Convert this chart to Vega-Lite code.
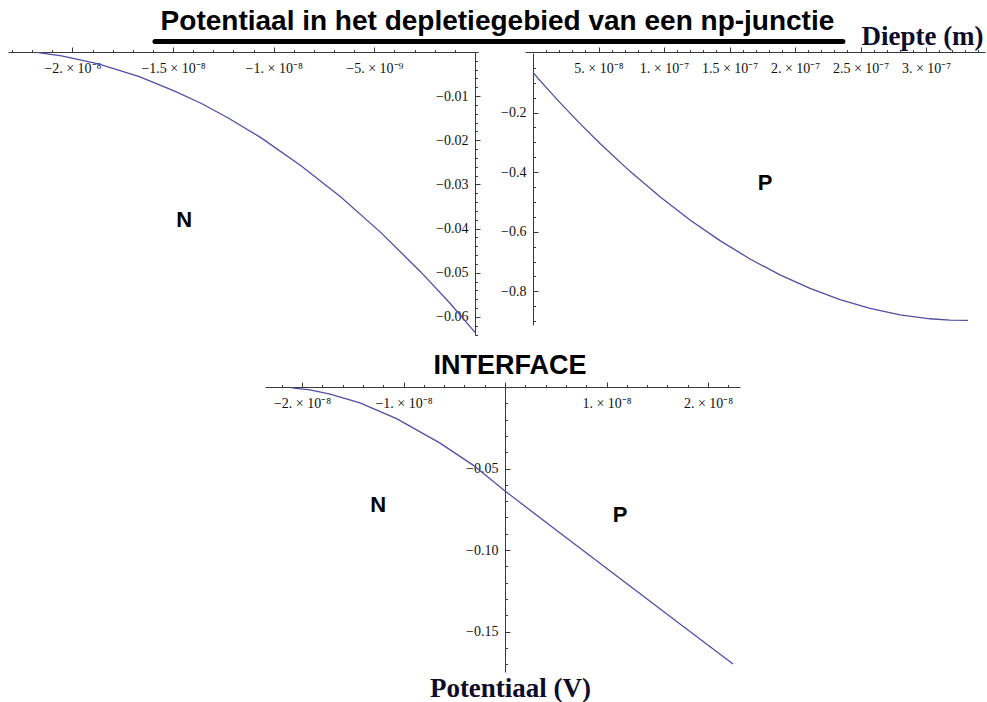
{
  "$schema": "https://vega.github.io/schema/vega-lite/v6.json",
  "width": 987,
  "height": 702,
  "autosize": {"type": "none"},
  "padding": 0,
  "background": "white",
  "config": {
    "view": {"stroke": null},
    "axis": {
      "grid": false,
      "domainColor": "#3a3a3a",
      "domainWidth": 1,
      "tickColor": "#3a3a3a",
      "tickWidth": 1,
      "tickSize": -5,
      "labelFont": "Liberation Serif",
      "labelFontSize": 14,
      "labelColor": "#111111",
      "labelOverlap": false,
      "labelFlush": false,
      "labelBound": false,
      "labelPadding": 12
    },
    "axisX": {"labelPadding": 14}
  },
  "layer": [
    {
      "data": {"values": [
        {"diepte_m": -2.178e-8, "potentiaal_V": -0.0001},
        {"diepte_m": -2.054e-8, "potentiaal_V": -0.0009},
        {"diepte_m": -1.871e-8, "potentiaal_V": -0.0027},
        {"diepte_m": -1.668e-8, "potentiaal_V": -0.0056},
        {"diepte_m": -1.495e-8, "potentiaal_V": -0.0088},
        {"diepte_m": -1.361e-8, "potentiaal_V": -0.0116},
        {"diepte_m": -1.228e-8, "potentiaal_V": -0.0149},
        {"diepte_m": -1.064e-8, "potentiaal_V": -0.0194},
        {"diepte_m": -8.66e-9, "potentiaal_V": -0.0257},
        {"diepte_m": -6.68e-9, "potentiaal_V": -0.0328},
        {"diepte_m": -4.70e-9, "potentiaal_V": -0.0408},
        {"diepte_m": -2.72e-9, "potentiaal_V": -0.0497},
        {"diepte_m": -1.24e-9, "potentiaal_V": -0.0569},
        {"diepte_m": 0, "potentiaal_V": -0.0635}
      ]},
      "layer": [
        {
          "mark": {"type": "line", "color": "#4f4fa6", "strokeWidth": 1.3},
          "encoding": {
            "x": {
              "field": "diepte_m", "type": "quantitative",
              "scale": {"domain": [-2.32e-8, 1.5e-10], "range": [8, 478], "zero": false, "nice": false},
              "axis": {
                "orient": "bottom", "offset": -650, "title": null,
                "values": [-2e-8, -1.5e-8, -1e-8, -5e-9],
                "labelExpr": "replace(split(format(datum.value,'.1e'),'e')[0],'.0','.') + ' × 10' + replace(replace(replace(replace(replace(split(format(datum.value,'.1e'),'e')[1],'-','⁻'),'−','⁻'),'7','⁷'),'8','⁸'),'9','⁹')"
              }
            },
            "y": {
              "field": "potentiaal_V", "type": "quantitative",
              "scale": {"domain": [-0.0641, 0], "range": [335, 52], "zero": false, "nice": false},
              "axis": {
                "orient": "left", "offset": -475, "title": null,
                "values": [-0.01, -0.02, -0.03, -0.04, -0.05, -0.06],
                "format": ".2f"
              }
            }
          }
        },
        {
          "data": {"values": [{"diepte_m": -1.445e-8, "potentiaal_V": -0.0381, "gebied": "N"}]},
          "mark": {"type": "text", "font": "Liberation Sans", "fontWeight": "bold", "fontSize": 22, "color": "black", "align": "center", "baseline": "middle"},
          "encoding": {
            "x": {"field": "diepte_m", "type": "quantitative",
              "axis": {"orient": "bottom", "offset": -650, "title": null, "labels": false, "domain": false, "tickSize": -2.5,
                "values": [-2.3e-8, -2.2e-8, -2.1e-8, -1.9e-8, -1.8e-8, -1.7e-8, -1.6e-8, -1.4e-8, -1.3e-8, -1.2e-8, -1.1e-8, -9e-9, -8e-9, -7e-9, -6e-9, -4e-9, -3e-9, -2e-9, -1e-9]}},
            "y": {"field": "potentiaal_V", "type": "quantitative",
              "axis": {"orient": "left", "offset": -475, "title": null, "labels": false, "domain": false, "tickSize": -2.5,
                "values": [-0.002, -0.004, -0.006, -0.008, -0.012, -0.014, -0.016, -0.018, -0.022, -0.024, -0.026, -0.028, -0.032, -0.034, -0.036, -0.038, -0.042, -0.044, -0.046, -0.048, -0.052, -0.054, -0.056, -0.058, -0.062, -0.064]}},
            "text": {"field": "gebied"}
          }
        }
      ],
      "resolve": {"axis": {"x": "independent", "y": "independent"}}
    },
    {
      "data": {"values": [
        {"diepte_m": 0, "potentiaal_V": -0.0655},
        {"diepte_m": 9.16e-9, "potentiaal_V": -0.1113},
        {"diepte_m": 2.061e-8, "potentiaal_V": -0.1664},
        {"diepte_m": 3.588e-8, "potentiaal_V": -0.2370},
        {"diepte_m": 5.115e-8, "potentiaal_V": -0.3035},
        {"diepte_m": 7.405e-8, "potentiaal_V": -0.3973},
        {"diepte_m": 9.695e-8, "potentiaal_V": -0.4827},
        {"diepte_m": 1.1985e-7, "potentiaal_V": -0.5603},
        {"diepte_m": 1.4275e-7, "potentiaal_V": -0.6299},
        {"diepte_m": 1.6565e-7, "potentiaal_V": -0.6914},
        {"diepte_m": 1.8855e-7, "potentiaal_V": -0.7449},
        {"diepte_m": 2.1145e-7, "potentiaal_V": -0.7903},
        {"diepte_m": 2.3435e-7, "potentiaal_V": -0.8279},
        {"diepte_m": 2.5725e-7, "potentiaal_V": -0.8571},
        {"diepte_m": 2.8015e-7, "potentiaal_V": -0.8787},
        {"diepte_m": 3.0305e-7, "potentiaal_V": -0.8921},
        {"diepte_m": 3.1832e-7, "potentiaal_V": -0.8965},
        {"diepte_m": 3.3206e-7, "potentiaal_V": -0.8975}
      ]},
      "layer": [
        {
          "mark": {"type": "line", "color": "#4f4fa6", "strokeWidth": 1.3},
          "encoding": {
            "x": {
              "field": "diepte_m", "type": "quantitative",
              "scale": {"domain": [-6.1e-9, 3.45e-7], "range": [525, 985], "zero": false, "nice": false},
              "axis": {
                "orient": "bottom", "offset": -650,
                "title": "Diepte (m)",
                "titleFont": "Liberation Serif", "titleFontWeight": "bold", "titleFontSize": 27, "titleColor": "#0d0d2b",
                "titleAngle": 0, "titleAlign": "center", "titleBaseline": "middle", "titleX": 922, "titleY": -16,
                "values": [5e-8, 1e-7, 1.5e-7, 2e-7, 2.5e-7, 3e-7],
                "labelExpr": "replace(split(format(datum.value,'.1e'),'e')[0],'.0','.') + ' × 10' + replace(replace(replace(replace(replace(split(format(datum.value,'.1e'),'e')[1],'-','⁻'),'−','⁻'),'7','⁷'),'8','⁸'),'9','⁹')"
              }
            },
            "y": {
              "field": "potentiaal_V", "type": "quantitative",
              "scale": {"domain": [-0.913, 0], "range": [325, 53], "zero": false, "nice": false},
              "axis": {
                "orient": "left", "offset": -533, "title": null,
                "values": [-0.2, -0.4, -0.6, -0.8],
                "format": ".1f"
              }
            }
          }
        },
        {
          "data": {"values": [{"diepte_m": 1.771e-7, "potentiaal_V": -0.4353, "gebied": "P"}]},
          "mark": {"type": "text", "font": "Liberation Sans", "fontWeight": "bold", "fontSize": 22, "color": "black", "align": "center", "baseline": "middle"},
          "encoding": {
            "x": {"field": "diepte_m", "type": "quantitative",
              "axis": {"orient": "bottom", "offset": -650, "title": null, "labels": false, "domain": false, "tickSize": -2.5,
                "values": [1e-8, 2e-8, 3e-8, 4e-8, 6e-8, 7e-8, 8e-8, 9e-8, 1.1e-7, 1.2e-7, 1.3e-7, 1.4e-7, 1.6e-7, 1.7e-7, 1.8e-7, 1.9e-7, 2.1e-7, 2.2e-7, 2.3e-7, 2.4e-7, 2.6e-7, 2.7e-7, 2.8e-7, 2.9e-7, 3.1e-7, 3.2e-7, 3.3e-7, 3.4e-7]}},
            "y": {"field": "potentiaal_V", "type": "quantitative",
              "axis": {"orient": "left", "offset": -533, "title": null, "labels": false, "domain": false, "tickSize": -2.5,
                "values": [-0.05, -0.1, -0.15, -0.25, -0.3, -0.35, -0.45, -0.5, -0.55, -0.65, -0.7, -0.75, -0.85, -0.9]}},
            "text": {"field": "gebied"}
          }
        }
      ],
      "resolve": {"axis": {"x": "independent", "y": "independent"}}
    },
    {
      "data": {"values": [
        {"diepte_m": -2.099e-8, "potentiaal_V": -0.0006},
        {"diepte_m": -1.921e-8, "potentiaal_V": -0.0018},
        {"diepte_m": -1.724e-8, "potentiaal_V": -0.0043},
        {"diepte_m": -1.429e-8, "potentiaal_V": -0.0098},
        {"diepte_m": -1.064e-8, "potentiaal_V": -0.0196},
        {"diepte_m": -6.40e-9, "potentiaal_V": -0.0344},
        {"diepte_m": -3.15e-9, "potentiaal_V": -0.0479},
        {"diepte_m": 0, "potentiaal_V": -0.0638},
        {"diepte_m": 5.42e-9, "potentiaal_V": -0.0896},
        {"diepte_m": 1.133e-8, "potentiaal_V": -0.1175},
        {"diepte_m": 1.724e-8, "potentiaal_V": -0.1454},
        {"diepte_m": 2.246e-8, "potentiaal_V": -0.1699}
      ]},
      "layer": [
        {
          "mark": {"type": "line", "color": "#4f4fa6", "strokeWidth": 1.3},
          "encoding": {
            "x": {
              "field": "diepte_m", "type": "quantitative",
              "scale": {"domain": [-2.365e-8, 2.315e-8], "range": [265, 740], "zero": false, "nice": false},
              "axis": {
                "orient": "bottom", "offset": -315, "title": null,
                "values": [-2e-8, -1e-8, 0, 1e-8, 2e-8],
                "labelExpr": "datum.value == 0 ? '' : replace(split(format(datum.value,'.1e'),'e')[0],'.0','.') + ' × 10' + replace(replace(replace(replace(replace(split(format(datum.value,'.1e'),'e')[1],'-','⁻'),'−','⁻'),'7','⁷'),'8','⁸'),'9','⁹')"
              }
            },
            "y": {
              "field": "potentiaal_V", "type": "quantitative",
              "scale": {"domain": [-0.1748, 0], "range": [672, 387], "zero": false, "nice": false},
              "axis": {
                "orient": "left", "offset": -505,
                "title": "Potentiaal (V)",
                "titleFont": "Liberation Serif", "titleFontWeight": "bold", "titleFontSize": 27, "titleColor": "#0d0d2b",
                "titleAngle": 0, "titleAlign": "center", "titleBaseline": "middle", "titleX": 5, "titleY": 688,
                "values": [-0.05, -0.1, -0.15],
                "format": ".2f"
              }
            }
          }
        },
        {
          "data": {"values": [
            {"diepte_m": -1.251e-8, "potentiaal_V": -0.0724, "gebied": "N"},
            {"diepte_m": 1.133e-8, "potentiaal_V": -0.0785, "gebied": "P"}
          ]},
          "mark": {"type": "text", "font": "Liberation Sans", "fontWeight": "bold", "fontSize": 22, "color": "black", "align": "center", "baseline": "middle"},
          "encoding": {
            "x": {"field": "diepte_m", "type": "quantitative",
              "axis": {"orient": "bottom", "offset": -315, "title": null, "labels": false, "domain": false, "tickSize": -2.5,
                "values": [-2.2e-8, -1.8e-8, -1.6e-8, -1.4e-8, -1.2e-8, -8e-9, -6e-9, -4e-9, -2e-9, 2e-9, 4e-9, 6e-9, 8e-9, 1.2e-8, 1.4e-8, 1.6e-8, 1.8e-8, 2.2e-8]}},
            "y": {"field": "potentiaal_V", "type": "quantitative",
              "axis": {"orient": "left", "offset": -505, "title": null, "labels": false, "domain": false, "tickSize": -2.5,
                "values": [-0.01, -0.02, -0.03, -0.04, -0.06, -0.07, -0.08, -0.09, -0.11, -0.12, -0.13, -0.14, -0.16, -0.17]}},
            "text": {"field": "gebied"}
          }
        },
        {
          "data": {"values": [{"diepte_m": 4.9e-10, "potentiaal_V": 0.0129, "gebied": "INTERFACE"}]},
          "mark": {"type": "text", "font": "Liberation Sans", "fontWeight": "bold", "fontSize": 27, "color": "black", "align": "center", "baseline": "middle"},
          "encoding": {
            "x": {"field": "diepte_m", "type": "quantitative", "axis": null},
            "y": {"field": "potentiaal_V", "type": "quantitative", "axis": null},
            "text": {"field": "gebied"}
          }
        }
      ],
      "resolve": {"axis": {"x": "independent", "y": "independent"}}
    },
    {
      "data": {"values": [
        {"fx": 0.157, "fx2": 0.854, "fy": 0.0591}
      ]},
      "layer": [
        {
          "mark": {"type": "rule", "color": "black", "strokeWidth": 5, "strokeCap": "round"},
          "encoding": {
            "x": {"field": "fx", "type": "quantitative", "scale": {"domain": [0, 1], "range": [0, 987]}, "axis": null},
            "x2": {"field": "fx2"},
            "y": {"field": "fy", "type": "quantitative", "scale": {"domain": [0, 1], "range": [0, 702]}, "axis": null}
          }
        },
        {
          "data": {"values": [{"fx": 0.504, "fy": 0.031, "titel": "Potentiaal in het depletiegebied van een np-junctie"}]},
          "mark": {"type": "text", "font": "Liberation Sans", "fontWeight": "bold", "fontSize": 28, "color": "black", "align": "center", "baseline": "middle"},
          "encoding": {
            "x": {"field": "fx", "type": "quantitative", "axis": null},
            "y": {"field": "fy", "type": "quantitative", "axis": null},
            "text": {"field": "titel"}
          }
        }
      ]
    }
  ],
  "resolve": {"scale": {"x": "independent", "y": "independent"}}
}
